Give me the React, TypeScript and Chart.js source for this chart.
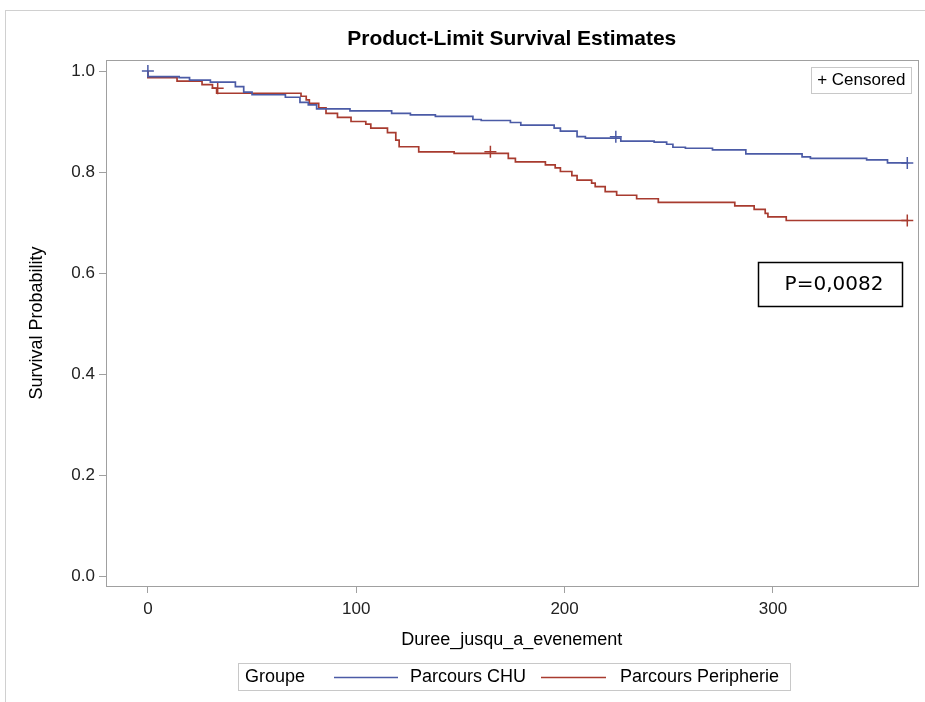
import { useEffect, useRef } from "react";
import { Chart, registerables } from "chart.js";

Chart.register(...registerables);

// ---- data ----
const CHU_TIME = [0, 15, 20, 30, 42, 46, 50, 66, 73, 77, 81, 97, 117, 126, 138, 156, 160, 174, 179, 195, 198, 206, 210, 227, 243, 249, 252, 258, 271, 287, 314, 318, 345, 355, 357, 365];
const CHU_SURV = [1.0, 0.989, 0.987, 0.982, 0.978, 0.969, 0.958, 0.953, 0.948, 0.938, 0.933, 0.925, 0.921, 0.916, 0.913, 0.91, 0.904, 0.902, 0.898, 0.893, 0.887, 0.881, 0.87, 0.867, 0.861, 0.859, 0.855, 0.849, 0.847, 0.844, 0.836, 0.83, 0.827, 0.824, 0.818, 0.818];

const PERI_TIME = [0, 14, 26, 31, 33, 73.5, 76, 77.5, 82, 85.5, 91, 97.5, 104.6, 107, 115, 119, 120.6, 130, 147, 173, 176.4, 190.8, 195.5, 198, 203.5, 206, 213, 214.7, 219.5, 225, 234.6, 245, 281.7, 291, 296.3, 297.6, 306.4, 348.7, 365];
const PERI_SURV = [1.0, 0.987, 0.98, 0.973, 0.966, 0.956, 0.95, 0.943, 0.936, 0.927, 0.916, 0.908, 0.9, 0.895, 0.887, 0.878, 0.863, 0.85, 0.84, 0.837, 0.827, 0.82, 0.814, 0.808, 0.801, 0.793, 0.784, 0.778, 0.771, 0.761, 0.754, 0.747, 0.74, 0.733, 0.726, 0.718, 0.711, 0.704, 0.704];

const CHU_CENS_TIME = [0, 224.6, 364.5];
const CHU_CENS_SURV = [1.0, 0.87, 0.818];
const PERI_CENS_TIME = [33.5, 164.4, 364.5];
const PERI_CENS_SURV = [0.966, 0.84, 0.704];

const X_TICKS = [0, 100, 200, 300];
const Y_TICKS = [0, 0.2, 0.4, 0.6, 0.8, 1.0];
const GROUPS = ["Parcours CHU", "Parcours Peripherie"];
const COLORS = ["#4b5ba6", "#a83b2f"];
const TITLE = "Product-Limit Survival Estimates";
const X_TITLE = "Duree_jusqu_a_evenement";
const Y_TITLE = "Survival Probability";
const LEGEND_TITLE = "Groupe";
const CENSORED_LABEL = "+ Censored";
const P_LABEL = "P=0,0082";

const FONT = "'Liberation Sans', Arial, sans-serif";
const AXIS_GRAY = "#a0a0a0";

const pts = (xs: number[], ys: number[]) => xs.map((x, i) => ({ x, y: ys[i] }));

const overlay = {
  id: "overlay",
  afterDraw(chart: any) {
    const ctx = chart.ctx as CanvasRenderingContext2D;
    const a = chart.chartArea;
    ctx.save();
    // outer frame of the graph
    ctx.strokeStyle = "#d0d0d0";
    ctx.lineWidth = 1;
    ctx.strokeRect(5.5, 10.5, 940, 720);
    // plot frame
    ctx.strokeStyle = AXIS_GRAY;
    ctx.strokeRect(Math.round(a.left) + 0.5, Math.round(a.top) + 0.5, Math.round(a.right - a.left), Math.round(a.bottom - a.top));

    // title centred over the plot area
    ctx.fillStyle = "#000";
    ctx.font = `bold 21px ${FONT}`;
    ctx.textAlign = "center";
    ctx.textBaseline = "middle";
    ctx.fillText(TITLE, (a.left + a.right) / 2, 39);

    // censored legend box (inside, top right)
    ctx.font = `17px ${FONT}`;
    ctx.textAlign = "left";
    const cw = ctx.measureText(CENSORED_LABEL).width;
    const cbR = a.right - 6;
    const cbL = cbR - cw - 12;
    ctx.fillStyle = "#fff";
    ctx.fillRect(cbL, a.top + 7, cbR - cbL, 26);
    ctx.strokeStyle = "#c8c8c8";
    ctx.strokeRect(Math.round(cbL) + 0.5, Math.round(a.top + 7) + 0.5, Math.round(cbR - cbL), 26);
    ctx.fillStyle = "#000";
    ctx.fillText(CENSORED_LABEL, cbL + 6, a.top + 20.5);

    // bottom legend
    const ly = 677;
    ctx.font = `18px ${FONT}`;
    ctx.strokeStyle = "#c8c8c8";
    ctx.strokeRect(238.5, 663.5, 552, 27);
    ctx.fillStyle = "#000";
    ctx.fillText(LEGEND_TITLE, 245, ly);
    const segs = [
      { x0: 334, x1: 398, tx: 410 },
      { x0: 541, x1: 606, tx: 620 },
    ];
    segs.forEach((s, i) => {
      ctx.strokeStyle = COLORS[i];
      ctx.lineWidth = 1.5;
      ctx.beginPath();
      ctx.moveTo(s.x0, ly + 0.5);
      ctx.lineTo(s.x1, ly + 0.5);
      ctx.stroke();
      ctx.fillStyle = "#000";
      ctx.fillText(GROUPS[i], s.tx, ly);
    });

    // p-value box
    ctx.strokeStyle = "#000";
    ctx.lineWidth = 1.5;
    ctx.fillStyle = "#fff";
    ctx.fillRect(758, 262, 144, 44);
    ctx.strokeRect(758.5, 262.5, 144, 44);
    ctx.fillStyle = "#000";
    ctx.font = `20px 'DejaVu Sans', sans-serif`;
    ctx.textAlign = "center";
    ctx.fillText(P_LABEL, 834, 285);
    ctx.restore();
  },
};

export default function App() {
  const ref = useRef<HTMLCanvasElement | null>(null);
  useEffect(() => {
    document.body.style.margin = "0";
    const canvas = ref.current!;
    const chart = new Chart(canvas, {
      type: "scatter",
      data: {
        datasets: [
          {
            label: GROUPS[0],
            data: pts(CHU_TIME, CHU_SURV),
            showLine: true,
            stepped: "after",
            borderColor: COLORS[0],
            borderWidth: 1.7,
            pointRadius: 0,
            fill: false,
          },
          {
            label: GROUPS[1],
            data: pts(PERI_TIME, PERI_SURV),
            showLine: true,
            stepped: "after",
            borderColor: COLORS[1],
            borderWidth: 1.7,
            pointRadius: 0,
            fill: false,
          },
          {
            label: GROUPS[0] + " censored",
            data: pts(CHU_CENS_TIME, CHU_CENS_SURV),
            showLine: false,
            pointStyle: "cross",
            pointRadius: 6,
            borderColor: COLORS[0],
            borderWidth: 1.5,
          },
          {
            label: GROUPS[1] + " censored",
            data: pts(PERI_CENS_TIME, PERI_CENS_SURV),
            showLine: false,
            pointStyle: "cross",
            pointRadius: 6,
            borderColor: COLORS[1],
            borderWidth: 1.5,
          },
        ],
      } as any,
      options: {
        animation: false,
        responsive: false,
        layout: { padding: { left: 0, right: 5, top: 60, bottom: 47 } },
        plugins: {
          legend: { display: false },
          tooltip: { enabled: false },
          title: { display: false },
        },
        scales: {
          x: {
            type: "linear",
            min: -20.1,
            max: 369.4,
            afterBuildTicks: (s: any) => {
              s.ticks = X_TICKS.map((v) => ({ value: v }));
            },
            afterFit: (s: any) => {
              s.height = 69;
            },
            grid: { display: true, drawOnChartArea: false, drawTicks: true, tickLength: 7, color: AXIS_GRAY },
            border: { display: false },
            ticks: {
              color: "#222",
              font: { family: FONT, size: 17 },
              padding: 6,
              maxRotation: 0,
              callback: (v: any) => String(v),
            },
            title: {
              display: true,
              text: X_TITLE,
              color: "#000",
              font: { family: FONT, size: 18 },
              padding: { top: 4, bottom: 4 },
            },
          },
          y: {
            type: "linear",
            min: -0.0198,
            max: 1.0218,
            afterBuildTicks: (s: any) => {
              s.ticks = Y_TICKS.map((v) => ({ value: v }));
            },
            afterFit: (s: any) => {
              s.width = 106;
            },
            grid: { display: true, drawOnChartArea: false, drawTicks: true, tickLength: 7, color: AXIS_GRAY },
            border: { display: false },
            ticks: {
              color: "#222",
              font: { family: FONT, size: 17 },
              padding: 4,
              callback: (v: any) => Number(v).toFixed(1),
            },
            title: {
              display: true,
              text: Y_TITLE,
              color: "#000",
              font: { family: FONT, size: 18 },
              padding: { top: 26, bottom: 0 },
            },
          },
        },
      } as any,
      plugins: [overlay],
    });
    return () => chart.destroy();
  }, []);
  return (
    <div style={{ position: "absolute", left: 0, top: 0, width: 925, height: 702, background: "#fff" }}>
      <canvas ref={ref} width={925} height={702} style={{ display: "block" }} />
    </div>
  );
}
